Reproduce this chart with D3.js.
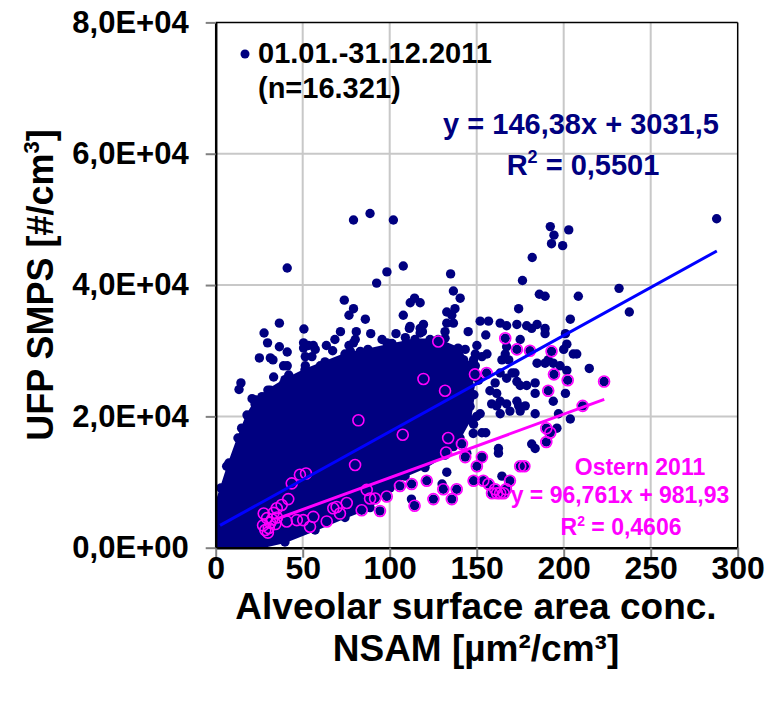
<!DOCTYPE html>
<html>
<head>
<meta charset="utf-8">
<script src="https://cdn.jsdelivr.net/npm/d3@7"></script>
<style>
body { margin: 0; background: #fff; }
text { font-family: "Liberation Sans", Arial, sans-serif; font-weight: bold; }
</style>
</head>
<body>
<div id="chart"></div>
<script>
// 01.01.-31.12.2011, single points outside / on the rim of the solid core  [NSAM, UFP]
var yearPts = [
  [79.2,49900],[88.7,50900],[102.1,49900],[41.1,42600],[98.4,42000],[107.8,42900],[92.5,40300],
  [135,41700],[136.6,39100],[140.5,38000],[73.9,37700],[79.2,36400],[76.6,35400],[86,34800],
  [114.3,38000],[117.5,37300],[111.8,37300],[107.8,35400],[137.5,36400],[132.8,35900],[136.6,34200],
  [135.7,35400],[111.3,33400],[119.4,34000],[117.5,33400],[36.6,34200],[50.7,33300],[27.8,32700],
  [71.7,32900],[89.1,32600],[14.5,25100],[13.4,24100],[22.6,21900],[25.1,28900],[29.8,31200],
  [36.6,30600],[41.1,29800],[41.1,27700],[39,27700],[50.5,31200],[53.3,30800],[56.1,30800],
  [63.6,30800],[68.5,31700],[79.2,31200],[83.1,29900],[2.1,7000],[14.9,18200],[6.3,12400],
  [287.9,50100],[192.3,48900],[194.4,47600],[193,46300],[199.4,46000],[202.9,48400],[181.9,44200],
  [176.3,40700],[231.8,39500],[237.7,35900],[208.4,38300],[186,38600],[189.3,38300],[174.1,36400],
  [203.8,34800],[152,34500],[156.8,34500],[163.5,34200],[167.2,33800],[173.1,34000],[178.7,33800],
  [181.6,33400],[184.7,34000],[155.2,32400],[145.1,32900],[189.3,33400],[189.3,32600],[167.2,30600],
  [166.4,29500],[150.1,30800],[149.2,29500],[189.3,28100],[194,28100],[197.9,27700],[201.8,27000],
  [205.5,29500],[207.5,29500],[214.7,27300],[172,26600],[173.1,25300],[157.6,23900],[161.5,23500],
  [163.5,22300],[167.2,21900],[169.1,20800],[161.5,21600],[163.5,20400],[178.7,24700],[183.6,25100],
  [194,22300],[201,23500],[203.8,19600],[197,20400],[196.1,18200],[181.6,15800],[183.6,15100],
  [174.1,21600],[177.9,21600],[149.2,26400],[162.5,15100],[162.5,14400],[164.5,10900],[132.8,11500],
  [112.5,7400],[80.8,32900],[31.4,28900],[32.9,28600],[50.5,30400],[57.2,30200],[51.5,29100],
  [55.3,29100],[51.5,27700],[67.2,30000],[60.1,27700],[33.3,26000],[49.2,26000],[76.6,30800],
  [80.2,31700],[77.4,29900],[95.6,31700],[98.4,31200],[87.5,27700],[74.5,28600],[132.8,34200],
  [118.8,32900],[131.8,32900],[131.8,31900],[103.6,32600],[109,32000],[175,31700],[201,32600],
  [201.8,31000],[200,30200],[153,29100],[155.9,29500],[143.4,30200],[139.7,29100],[142.5,28600],
  [148.2,28600],[149.2,27700],[147.3,26000],[151.1,25500],[164.5,28600],[168.4,28600],[170.3,26600],
  [184.7,28100],[191.1,28600],[163.5,26600],[167.2,25800],[160.6,25100],[175,24700],[183.6,23500],
  [137.5,27700],[141.5,26900],[137.5,25700],[140.5,24400],[145.4,23900],[153,13800],[183.6,20400],
  [175,20800],[173.1,22300],[158.6,21900],[152,20400],[153,17500],[155.2,17500],[148.2,18800],
  [143.4,19600],[140.5,19600],[130.1,9700],
  [64,26600],[80.2,27600],[93.7,28600],[99.4,29600],[101.3,31100],[20.9,22700],[26.6,23000],
  [31.4,24000],[39,25000],[43.9,25500],[48.6,24500],[55.3,25000],[42,26300],
  [111.7,33700],[117.5,32700],[123.2,31700],[109.7,31200],[119.3,30200],[125.1,29100],
  [130.8,30600],[136.6,29600],[140.4,28600],[144.3,27600],[134.7,26600],[142.3,25500],[146.2,24500],
  [138.5,21500],[144.3,20500],[140.4,18400],[148,17400],[146.2,21500],[150,20000],[136.6,15400],
  [144.3,14400]
];

// outline of the solid core where the 16.321 points overlap completely
var coreOutline = [
  [0.2,0],[0.2,6800],[3,9100],[7.6,12900],[12.8,16700],[18,20200],[23.2,22500],[30,24000],
  [39.8,25600],[51.3,27100],[62.8,28300],[74.3,29500],[87.5,30200],[101.3,31000],[114.5,31700],
  [127.8,31700],[139.3,30400],[146.2,27800],[148.4,23300],[146.2,19500],[140.4,16700],[131.8,14100],
  [120.3,12200],[108.8,10900],[100.2,9100],[88.7,6100],[74.3,4600],[57.1,2700],[39.8,870],[25.5,0]
];

// Ostern 2011
var easterPts = [
  [166.4,31900],[173.1,30200],[180.6,30000],[193,29900],[194.4,26400],[202.3,25500],[223.2,25300],
  [191.1,23900],[210.9,21600],[190,18200],[192.3,17500],[190,16100],[175,12400],[177.4,12400],
  [155.7,26600],[149,26400],[131.8,23900],[127.9,31400],[119.4,25700],[133.6,16700],[141.5,15800],
  [143.4,13800],[153,13800],[150.1,12400],[148.2,10200],[153.8,10200],[156.8,9700],[160.6,8900],
  [163.5,8300],[166.8,8900],[169.1,10200],[158.8,8300],[161.7,8300],[165.5,8300],[130.8,8900],
  [138.5,8900],[125.1,7400],[135.7,7400],[121.3,10200],[112.6,9700],[105.9,9400],[114.3,6400],
  [107.5,17200],[132.4,14500],[82,19400],[80.1,12600],[94.4,5600],[83.9,5700],[98.3,7800],
  [88.7,7500],[91.6,7500],[86.8,8800],[71.4,5200],[69.5,6200],[67.6,6000],[75.3,6800],[63.8,4000],
  [56.1,4700],[54.2,3200],[50.3,4200],[46.6,4200],[40.8,4000],[43.7,9800],[48.4,11100],[51.9,11300],
  [41.7,7400],[37.9,6500],[35.1,6000],[27.6,5200],[29.5,4500],[31.4,3800],[30.5,3000],[32.4,4300],
  [33.3,5300],[35.2,4600],[27.2,3400],[28.5,2700],[34.3,3600],[30,2300]
];

// linear trendlines (slope, intercept) and their x extent
var fitYear = [146.38, 3031.5];
var fitYearRange = [2.5, 288];
var fitEaster = [96.761, 981.93];
var fitEasterRange = [35, 223.3];

var xTicks = [0, 50, 100, 150, 200, 250, 300];
var yTicks = [0, 20000, 40000, 60000, 80000];
var yTickLabels = ["0,0E+00", "2,0E+04", "4,0E+04", "6,0E+04", "8,0E+04"];

const W = 778, H = 714;
const navy = "#000080", blue = "#0000ff", pink = "#ff00ff";

var svg = d3.select("#chart").append("svg")
    .attr("width", W)
    .attr("height", H);

var x = d3.scaleLinear().domain([0, 300]).range([215.7, 737.7]);
var y = d3.scaleLinear().domain([0, 80000]).range([547.7, 22.4]);

// gridlines
svg.append("g").selectAll("line")
    .data(xTicks.slice(1, -1))
    .enter().append("line")
    .attr("x1", d => x(d)).attr("x2", d => x(d))
    .attr("y1", y(0)).attr("y2", y(80000))
    .attr("stroke", "#c8c8c8").attr("stroke-width", 2);
svg.append("g").selectAll("line")
    .data(yTicks.slice(1, -1))
    .enter().append("line")
    .attr("x1", x(0)).attr("x2", x(300))
    .attr("y1", d => y(d)).attr("y2", d => y(d))
    .attr("stroke", "#c8c8c8").attr("stroke-width", 2);

svg.append("clipPath").attr("id", "plotclip")
  .append("rect")
    .attr("x", x(0)).attr("y", y(80000))
    .attr("width", x(300) - x(0)).attr("height", y(0) - y(80000));

var plot = svg.append("g").attr("clip-path", "url(#plotclip)");

// solid core
plot.append("path")
    .datum(coreOutline)
    .attr("d", d3.line().x(d => x(d[0])).y(d => y(d[1])).curve(d3.curveLinearClosed))
    .attr("fill", navy)
    .attr("stroke", navy)
    .attr("stroke-width", 2);

plot.append("g").selectAll("circle")
    .data(coreOutline.concat(yearPts, easterPts))
    .enter().append("circle")
    .attr("cx", d => x(d[0]))
    .attr("cy", d => y(d[1]))
    .attr("r", 4.7)
    .attr("fill", navy);

plot.append("g").selectAll("circle")
    .data(easterPts)
    .enter().append("circle")
    .attr("cx", d => x(d[0]))
    .attr("cy", d => y(d[1]))
    .attr("r", 5.5)
    .attr("fill", "none")
    .attr("stroke", pink)
    .attr("stroke-width", 1.6);

// trendlines
plot.append("line")
    .attr("x1", x(fitYearRange[0])).attr("y1", y(fitYear[0] * fitYearRange[0] + fitYear[1]))
    .attr("x2", x(fitYearRange[1])).attr("y2", y(fitYear[0] * fitYearRange[1] + fitYear[1]))
    .attr("stroke", blue).attr("stroke-width", 3);
plot.append("line")
    .attr("x1", x(fitEasterRange[0])).attr("y1", y(fitEaster[0] * fitEasterRange[0] + fitEaster[1]))
    .attr("x2", x(fitEasterRange[1])).attr("y2", y(fitEaster[0] * fitEasterRange[1] + fitEaster[1]))
    .attr("stroke", pink).attr("stroke-width", 3);

// frame
svg.append("line")
    .attr("x1", x(0)).attr("x2", x(300)).attr("y1", y(80000)).attr("y2", y(80000))
    .attr("stroke", "#000").attr("stroke-width", 1.5);
svg.append("line")
    .attr("x1", x(300)).attr("x2", x(300)).attr("y1", y(80000)).attr("y2", y(0))
    .attr("stroke", "#000").attr("stroke-width", 1.5);

// axes
var xAxis = d3.axisBottom(x).tickValues(xTicks).tickSizeInner(10).tickSizeOuter(0).tickPadding(-1);
var gx = svg.append("g").attr("transform", "translate(0," + y(0) + ")").call(xAxis);
gx.select(".domain").attr("stroke", "#000").attr("stroke-width", 2.5);
gx.selectAll(".tick line").attr("stroke", "#808080").attr("stroke-width", 2);
gx.selectAll(".tick text")
    .attr("font-size", 32).attr("font-family", null).attr("fill", "#000");

var yAxis = d3.axisLeft(y).tickValues(yTicks).tickSizeInner(10).tickSizeOuter(0).tickPadding(17)
    .tickFormat((d, i) => yTickLabels[i]);
var gy = svg.append("g").attr("transform", "translate(" + x(0) + ",0)").call(yAxis);
gy.select(".domain").attr("stroke", "#000").attr("stroke-width", 2.5);
gy.selectAll(".tick line").attr("stroke", "#808080").attr("stroke-width", 2);
gy.selectAll(".tick text")
    .attr("font-size", 31).attr("font-family", null).attr("fill", "#000");

// axis titles
svg.append("text")
    .attr("x", 476).attr("y", 619)
    .attr("text-anchor", "middle").attr("font-size", 37)
    .text("Alveolar surface area conc.");
svg.append("text")
    .attr("x", 476).attr("y", 661)
    .attr("text-anchor", "middle").attr("font-size", 37)
    .text("NSAM [µm²/cm³]");

var yt = svg.append("text")
    .attr("transform", "translate(53,285) rotate(-90)")
    .attr("text-anchor", "middle").attr("font-size", 36);
yt.append("tspan").text("UFP SMPS [#/cm");
yt.append("tspan").attr("font-size", 22).attr("dy", -14).text("3");
yt.append("tspan").attr("dy", 14).text("]");

// legend
svg.append("circle").attr("cx", 245).attr("cy", 54).attr("r", 4.5).attr("fill", navy);
svg.append("text").attr("x", 258).attr("y", 63).attr("font-size", 29).text("01.01.-31.12.2011");
svg.append("text").attr("x", 258).attr("y", 98).attr("font-size", 29).text("(n=16.321)");

// trendline labels
svg.append("text").attr("x", 581).attr("y", 134).attr("text-anchor", "middle")
    .attr("font-size", 29).attr("fill", navy).text("y = 146,38x + 3031,5");
var r1 = svg.append("text").attr("x", 583).attr("y", 175).attr("text-anchor", "middle")
    .attr("font-size", 29).attr("fill", navy);
r1.append("tspan").text("R");
r1.append("tspan").attr("font-size", 18).attr("dy", -12).text("2");
r1.append("tspan").attr("dy", 12).text(" = 0,5501");

svg.append("text").attr("x", 640).attr("y", 475).attr("text-anchor", "middle")
    .attr("font-size", 23).attr("fill", pink).text("Ostern 2011");
svg.append("text").attr("x", 620).attr("y", 503).attr("text-anchor", "middle")
    .attr("font-size", 23).attr("fill", pink).text("y = 96,761x + 981,93");
var r2 = svg.append("text").attr("x", 621).attr("y", 535).attr("text-anchor", "middle")
    .attr("font-size", 23).attr("fill", pink);
r2.append("tspan").text("R");
r2.append("tspan").attr("font-size", 14).attr("dy", -9).text("2");
r2.append("tspan").attr("dy", 9).text(" = 0,4606");
</script>
</body>
</html>
